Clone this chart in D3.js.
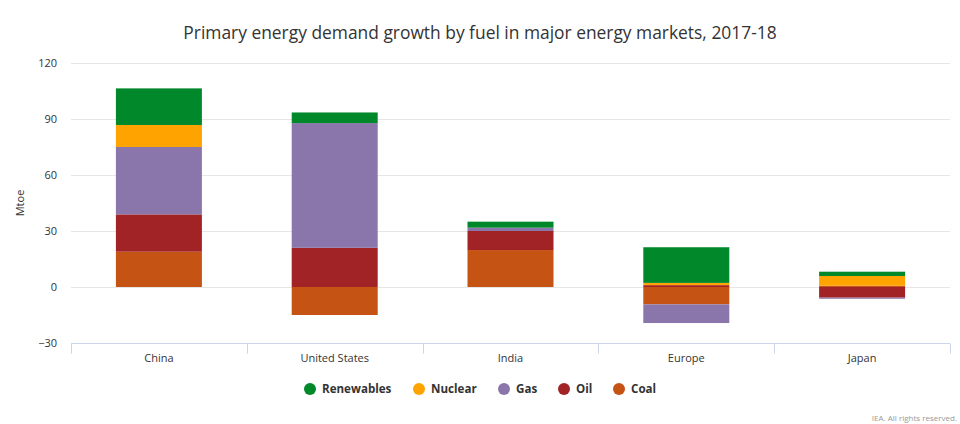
<!DOCTYPE html>
<html>
<head>
<meta charset="utf-8">
<script src="https://cdn.jsdelivr.net/npm/d3@7"></script>
<style>
  html, body { margin: 0; padding: 0; background: #fff; }
  svg { display: block; font-family: "Open Sans", sans-serif; }
</style>
</head>
<body>
<svg id="chart" width="960" height="424"></svg>
<script>
const categories = ["China", "United States", "India", "Europe", "Japan"];
const renewables = [19.6, 5.7, 3.2, 19.1, 2.3];
const nuclear    = [11.8, 0, 0, 1.2, 5.2];
const gas        = [36.1, 66.8, 1.8, -10.0, -0.6];
const oil        = [20.0, 21.0, 10.2, 1.0, -5.7];
const coal       = [18.9, -15.0, 19.8, -9.3, 0.7];
const yTicks = [-30, 0, 30, 60, 90, 120];

const seriesNames = ["Renewables", "Nuclear", "Gas", "Oil", "Coal"];
const colors = {
  Renewables: "#00882b",
  Nuclear: "#ffa300",
  Gas: "#8b76ab",
  Oil: "#a12326",
  Coal: "#c55414"
};

const rows = categories.map((c, i) => ({
  category: c,
  Renewables: renewables[i],
  Nuclear: nuclear[i],
  Gas: gas[i],
  Oil: oil[i],
  Coal: coal[i]
}));

const svg = d3.select("#chart");
const margin = { left: 71, right: 10, top: 63, bottom: 81 };
const W = 960, H = 424;

const x = d3.scaleBand().domain(categories).range([margin.left, W - margin.right]).paddingInner(0).paddingOuter(0);
const y = d3.scaleLinear().domain([-30, 120]).range([H - margin.bottom, margin.top]);

// title
svg.append("text")
  .attr("x", 480).attr("y", 39)
  .attr("text-anchor", "middle")
  .attr("font-size", 17.4)
  .attr("fill", "#333")
  .text("Primary energy demand growth by fuel in major energy markets, 2017-18");

// gridlines
svg.append("g").selectAll("line").data(yTicks.filter(t => t !== -30)).join("line")
  .attr("x1", margin.left).attr("x2", W - margin.right)
  .attr("y1", d => Math.round(y(d)) + 0.5).attr("y2", d => Math.round(y(d)) + 0.5)
  .attr("stroke", "#e6e6e6").attr("stroke-width", 1);

// y axis labels
const yAxis = d3.axisLeft(y).tickValues(yTicks).tickSize(0).tickPadding(0);
const gy = svg.append("g").attr("transform", `translate(${margin.left - 14},0)`).call(yAxis);
gy.select(".domain").remove();
gy.selectAll("text").attr("font-size", 11).attr("fill", "#333").attr("font-family", "Open Sans, sans-serif").attr("dy", "0.32em");

// y axis title
svg.append("text")
  .attr("transform", `translate(24,${(margin.top + H - margin.bottom) / 2}) rotate(-90)`)
  .attr("text-anchor", "middle")
  .attr("font-size", 11).attr("fill", "#333")
  .text("Mtoe");

// stacked bars
const stackKeys = ["Coal", "Oil", "Gas", "Nuclear", "Renewables"];
const stacked = d3.stack().keys(stackKeys).offset(d3.stackOffsetDiverging)(rows);
const barW = 86;

svg.append("g").selectAll("g").data(stacked).join("g")
  .attr("fill", d => colors[d.key])
  .selectAll("rect").data(d => d).join("rect")
  .attr("x", d => x(d.data.category) + x.bandwidth() / 2 - barW / 2)
  .attr("width", barW)
  .attr("y", d => y(Math.max(d[0], d[1])))
  .attr("height", d => Math.abs(y(d[0]) - y(d[1])));

// x axis
const xAxisY = Math.round(y(-30)) + 0.5;
const gx = svg.append("g");
gx.append("line")
  .attr("x1", margin.left).attr("x2", W - margin.right)
  .attr("y1", xAxisY).attr("y2", xAxisY)
  .attr("stroke", "#ccd6eb");
const boundaries = categories.map(c => x(c)).concat([x(categories[categories.length - 1]) + x.bandwidth()]);
gx.selectAll("line.tick").data(boundaries).join("line")
  .attr("class", "tick")
  .attr("x1", d => Math.round(d) + 0.5).attr("x2", d => Math.round(d) + 0.5)
  .attr("y1", xAxisY).attr("y2", xAxisY + 10)
  .attr("stroke", "#ccd6eb");
gx.selectAll("text").data(categories).join("text")
  .attr("x", d => x(d) + x.bandwidth() / 2)
  .attr("y", xAxisY + 18)
  .attr("text-anchor", "middle")
  .attr("font-size", 11).attr("fill", "#333")
  .text(d => d);

// legend
const legendX = [310, 419, 504, 564, 619];
const legend = svg.append("g").selectAll("g").data(seriesNames).join("g")
  .attr("transform", (d, i) => `translate(${legendX[i]},389)`);
legend.append("circle").attr("r", 6).attr("fill", d => colors[d]);
legend.append("text")
  .attr("x", 12).attr("dy", "0.35em")
  .attr("font-size", 11.6).attr("font-weight", "bold").attr("fill", "#333")
  .text(d => d);

// credit
svg.append("text")
  .attr("x", 957).attr("y", 421)
  .attr("text-anchor", "end")
  .attr("font-size", 8).attr("fill", "#999")
  .text("IEA. All rights reserved.");
</script>
</body>
</html>
